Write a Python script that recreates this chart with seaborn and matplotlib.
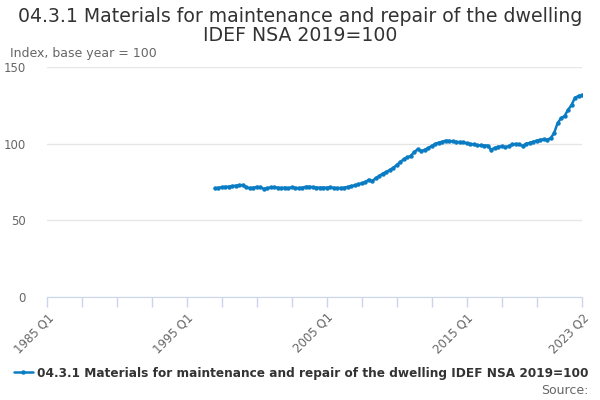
import matplotlib
matplotlib.use("Agg")
import matplotlib.pyplot as plt
import seaborn as sns
import pandas as pd

# quarterly index values, 1997 Q1 .. 2023 Q2
start_year = 1997
values = [
    70.9, 71.2, 71.6, 71.8,      # 1997
    72.0, 72.3, 72.6, 72.9,      # 1998
    73.0, 71.5, 71.0, 71.3,      # 1999
    71.8, 71.6, 70.5, 71.0,      # 2000
    71.5, 71.6, 71.3, 71.0,      # 2001
    71.4, 71.0, 71.5, 71.2,      # 2002
    71.0, 71.3, 71.9, 72.0,      # 2003
    71.6, 71.4, 71.3, 71.4,      # 2004
    71.3, 71.5, 71.2, 71.0,      # 2005
    71.1, 71.3, 71.8, 72.3,      # 2006
    72.8, 73.5, 74.2, 74.8,      # 2007
    76.5, 75.6, 77.5, 78.8,      # 2008
    80.5, 81.5, 82.8, 84.2,      # 2009
    86.0, 88.0, 89.8, 91.0,      # 2010
    92.0, 94.5, 96.3, 95.2,      # 2011
    96.0, 97.2, 98.5, 99.8,      # 2012
    100.7, 101.2, 102.0, 101.8,  # 2013
    101.5, 101.2, 101.0, 101.0,  # 2014
    100.2, 99.9, 99.5, 99.0,     # 2015
    98.9, 98.8, 98.8, 96.0,      # 2016
    97.3, 98.0, 98.2, 97.8,      # 2017
    98.3, 99.5, 99.8, 99.6,      # 2018
    98.5, 100.0, 100.5, 101.2,   # 2019
    102.0, 102.5, 102.8, 102.6,  # 2020
    103.5, 106.8, 113.3, 116.6,  # 2021
    118.0, 122.0, 125.2, 130.0,  # 2022
    131.1, 131.8,                # 2023
]
first_year = 1985
last_label = "2023 Q2"
series_name = "04.3.1 Materials for maintenance and repair of the dwelling IDEF NSA 2019=100"
title = "04.3.1 Materials for maintenance and repair of the dwelling\nIDEF NSA 2019=100"
ylabel = "Index, base year = 100"

offset = (start_year - first_year) * 4
df = pd.DataFrame({"q": range(offset, offset + len(values)), "value": values})
n_total = offset + len(values) - 1

sns.set_style("white")
plt.rcParams['font.family'] = ['DejaVu Sans']

fig = plt.figure(figsize=(6, 4), dpi=100)
ax = fig.add_axes([47 / 600, 103 / 400, 535 / 600, 230 / 400])

blue = "#0a7cc4"
sns.lineplot(data=df, x="q", y="value", ax=ax, color=blue, lw=1.8,
             marker="o", markersize=3.2, markeredgewidth=0, label=series_name)

ax.set_xlim(0, n_total)
ax.set_ylim(0, 150)
ax.set_yticks([0, 50, 100, 150])
ax.yaxis.grid(True, color="#e6e6e6", lw=1)
ax.set_axisbelow(True)

ticks = list(range(0, 141, 10)) + [n_total]
labels = []
for t in ticks:
    if t == n_total:
        labels.append(last_label)
    elif t % 40 == 0:
        labels.append(f"{first_year + t // 4} Q1")
    else:
        labels.append("")
ax.set_xticks(ticks)
ax.set_xticklabels(labels, rotation=45, ha="right", rotation_mode="anchor",
                   color="#666666", fontsize=8.5)
ax.tick_params(axis="x", bottom=True, length=7, color="#ccd6eb", width=1,
               direction="out", pad=3)
ax.tick_params(axis="y", left=False, labelcolor="#666666", labelsize=8.5, pad=12)
for s in ["top", "right", "left"]:
    ax.spines[s].set_visible(False)
ax.spines["bottom"].set_color("#ccd6eb")
ax.set_xlabel("")
ax.set_ylabel("")

fig.text(0.5, 1 - 7 / 400, title, ha="center", va="top", fontsize=13.6, color="#333333",
         linespacing=1.0)
fig.text(10 / 600, 1 - 53 / 400, ylabel, ha="left", va="center", fontsize=9, color="#666666")

ax.legend(loc="center", bbox_to_anchor=(0.5 - 0.024, (373 - 297) / -230.0),
          frameon=False, prop={"weight": "bold", "size": 8.7}, handlelength=1.5,
          handletextpad=0.4, labelcolor="#333333")
fig.text(589 / 600, 1 - 391 / 400, "Source:", ha="right", va="center", fontsize=9,
         color="#666666")

fig.savefig("out.png", dpi=100)
